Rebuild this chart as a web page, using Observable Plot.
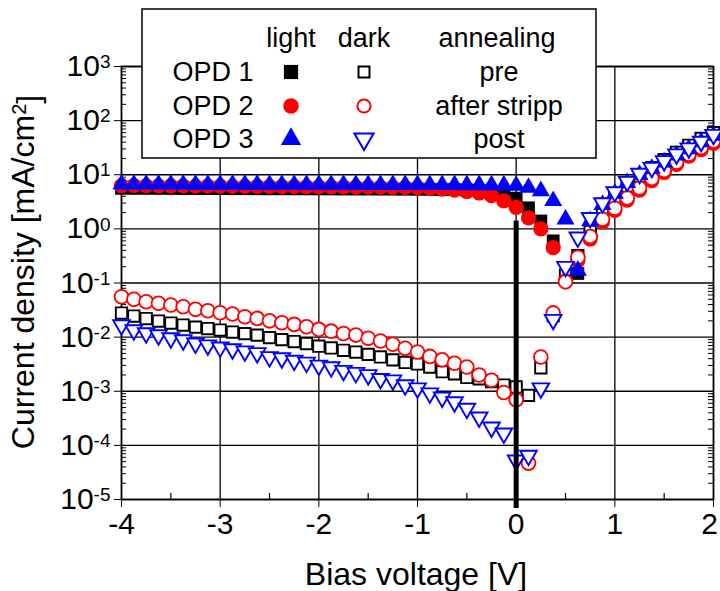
<!DOCTYPE html>
<html><head><meta charset="utf-8">
<script src="https://cdn.jsdelivr.net/npm/d3@7"></script>
<script src="https://cdn.jsdelivr.net/npm/@observablehq/plot@0.6"></script>
<style>
html,body{margin:0;padding:0;background:#fff;}
#chart{position:relative;width:720px;height:591px;}
</style></head><body><div id="chart"></div>
<script>
// ---------- data ----------
const voltage = [-4, -3.875, -3.75, -3.625, -3.5, -3.375, -3.25, -3.125, -3, -2.875, -2.75, -2.625, -2.5, -2.375, -2.25, -2.125, -2, -1.875, -1.75, -1.625, -1.5, -1.375, -1.25, -1.125, -1, -0.875, -0.75, -0.625, -0.5, -0.375, -0.25, -0.125, 0, 0.125, 0.25, 0.375, 0.5, 0.625, 0.75, 0.875, 1, 1.125, 1.25, 1.375, 1.5, 1.625, 1.75, 1.875, 2];

const opd1Light = [5.6, 5.6, 5.6, 5.58, 5.57, 5.56, 5.55, 5.55, 5.54, 5.53, 5.52, 5.51, 5.5, 5.5, 5.49, 5.48, 5.47, 5.46, 5.45, 5.44, 5.43, 5.42, 5.41, 5.4, 5.38,
  5.36, 5.33, 5.3, 5.25, 5.15, 4.9, 4.4, 3.7,
  2.45, 1.4, 0.6, 0.13, 0.15, 0.75, 1.8, 3.5, 5.9, 9, 13, 18.5, 25, 34, 46, 59];
const opd1Dark = [0.0278, 0.0245, 0.0220, 0.0198, 0.0182, 0.0167, 0.0153, 0.0144, 0.0135, 0.0124, 0.0116, 0.0109, 0.0098, 0.0090, 0.0083, 0.0076, 0.0068, 0.0063, 0.0057, 0.0053, 0.0048, 0.0043, 0.0038,
  0.0034, 0.0032, 0.0028, 0.0023, 0.0021, 0.0018, 0.0017, 0.0015, 0.0013, 0.0012,
  0.00084, 0.0027, 0.025, 0.14, 0.32, 0.9, 2.0, 3.8, 6.2, 9.5, 13.5, 19, 26, 35, 47, 60];
const opd2Light = [6.3, 6.28, 6.26, 6.24, 6.22, 6.2, 6.18, 6.16, 6.14, 6.12, 6.1, 6.08, 6.06, 6.04, 6.02, 6.0, 5.98, 5.96, 5.94, 5.92, 5.9, 5.88, 5.86, 5.83, 5.8,
  5.6, 5.4, 5.2, 4.9, 4.6, 4.1, 3.3, 2.5,
  1.6, 1.0, 0.45, 0.11, 0.26, 0.65, 1.35, 2.2, 3.4, 5.2, 7.8, 11, 15.5, 22, 29, 38];
const opd2Dark = [0.0557, 0.0499, 0.0451, 0.0421, 0.0392, 0.0364, 0.0326, 0.0307, 0.0282, 0.0267, 0.0238, 0.0222, 0.0200, 0.0184, 0.0172, 0.0155, 0.0139, 0.0129, 0.0117, 0.0109, 0.0095, 0.0085, 0.0074,
  0.0062, 0.0053, 0.0044, 0.0038, 0.0033, 0.0028, 0.0020, 0.0016, 0.00095, 0.0007,
  0.000047, 0.0043, 0.028, 0.105, 0.3, 0.72, 1.5, 2.4, 3.7, 5.7, 8.5, 12, 17, 24, 32, 42];
const opd3Light = [6.65, 6.65, 6.64, 6.64, 6.63, 6.63, 6.62, 6.62, 6.61, 6.61, 6.6, 6.6, 6.59, 6.59, 6.58, 6.58, 6.57, 6.57, 6.56, 6.56, 6.55, 6.55, 6.54, 6.54, 6.53,
  6.52, 6.51, 6.5, 6.48, 6.46, 6.44, 6.4, 6.3,
  5.8, 5.0, 3.3, 1.5, 0.17, 1.4, 2.8, 4.5, 7.1, 10, 13, 17, 23, 30, 40, 53];
const opd3Dark = [0.0167, 0.0135, 0.0119, 0.0109, 0.0096, 0.0088, 0.0077, 0.0071, 0.0065, 0.0060, 0.0055, 0.0051, 0.0043, 0.0041, 0.0037, 0.0034, 0.0030, 0.0028, 0.0024, 0.0022, 0.0020, 0.0017, 0.0016,
  0.0013, 0.00114, 0.00092, 0.00077, 0.00063, 0.00048, 0.00033, 0.000215, 0.000167, 0.000053,
  0.000065, 0.00114, 0.021, 0.2, 0.7, 1.6, 3.0, 4.8, 7.5, 10.5, 13.5, 18, 24, 31, 41, 55];

const xTicks = [-4, -3, -2, -1, 0, 1, 2];
const xMinorTicks = [-3.5, -2.5, -1.5, -0.5, 0.5, 1.5];
const yTicks = [1e-5, 1e-4, 1e-3, 1e-2, 1e-1, 1e0, 1e1, 1e2, 1e3];
const yMinorTicks = [];
for (let k = -5; k < 3; k++) for (let m = 2; m <= 9; m++) yMinorTicks.push(m * Math.pow(10, k));
const zeroBar = [{v: 0, from: 6.8e-6, to: 1.4}];

const legendDevices = ["OPD 1", "OPD 2", "OPD 3"];
const legendAnnealing = ["pre", "after stripp", "post"];
const legendHeader = ["light", "dark", "annealing"];
const colors = ["#000000", "#ff0000", "#0000ff"];

// ---------- symbols ----------
const triUp = {draw(ctx, size) { const y = Math.sqrt(size / (Math.sqrt(3) * 3)); ctx.moveTo(0, -2 * y); ctx.lineTo(Math.sqrt(3) * y, y); ctx.lineTo(-Math.sqrt(3) * y, y); ctx.closePath(); }};
const triDown = {draw(ctx, size) { const y = Math.sqrt(size / (Math.sqrt(3) * 3)); ctx.moveTo(0, 2 * y); ctx.lineTo(-Math.sqrt(3) * y, -y); ctx.lineTo(Math.sqrt(3) * y, -y); ctx.closePath(); }};

const pts = arr => voltage.map((v, i) => ({v, j: arr[i]}));

const FONT = "Liberation Sans, Arial, Helvetica, sans-serif";

const svgEl = Plot.plot({
  width: 720, height: 591,
  marginLeft: 121, marginRight: 7, marginTop: 66, marginBottom: 92,
  style: {fontFamily: FONT, color: "black", background: "white", overflow: "visible"},
  x: {domain: [-4, 2]},
  y: {type: "log", domain: [1e-5, 1e3]},
  marks: [
    Plot.gridY(yTicks, {stroke: "black", strokeOpacity: 1, strokeWidth: 1.3}),
    Plot.gridX(xTicks, {stroke: "black", strokeOpacity: 1, strokeWidth: 1.3}),
    Plot.ruleY(yMinorTicks, {insetRight: 587, stroke: "black", strokeWidth: 1}),
    Plot.ruleY(yMinorTicks, {insetLeft: 587, stroke: "black", strokeWidth: 1}),
    Plot.ruleX(xMinorTicks, {insetTop: 427, stroke: "black", strokeWidth: 1.2}),
    Plot.frame({stroke: "black", strokeWidth: 1.6}),
    Plot.axisY(yTicks, {anchor: "left", tickSize: 7, tickPadding: 4, fontSize: 30, label: null, tickFormat: d => String(Math.round(Math.log10(d)))}),
    Plot.axisX(xTicks, {anchor: "bottom", tickSize: 8, tickPadding: 5, fontSize: 30, label: null, tickFormat: d => String(d)}),
    Plot.dot(pts(opd1Light), {x: "v", y: "j", symbol: "square", r: 7.2, fill: colors[0], stroke: "none"}),
    Plot.dot(pts(opd1Dark), {x: "v", y: "j", symbol: "square", r: 6.4, fill: "white", stroke: colors[0], strokeWidth: 1.9}),
    Plot.dot(pts(opd2Light), {x: "v", y: "j", symbol: "circle", r: 7.6, fill: colors[1], stroke: "none"}),
    Plot.dot(pts(opd2Dark), {x: "v", y: "j", symbol: "circle", r: 6.9, fill: "white", stroke: colors[1], strokeWidth: 1.8}),
    Plot.dot(pts(opd3Light), {x: "v", y: "j", symbol: triUp, r: 6.7, fill: colors[2], stroke: "none"}),
    Plot.dot(pts(opd3Dark), {x: "v", y: "j", symbol: triDown, r: 6.2, fill: "white", stroke: colors[2], strokeWidth: 1.9}),
    Plot.ruleX(zeroBar, {x: "v", y1: "from", y2: "to", stroke: "black", strokeWidth: 5})
  ]
});
document.getElementById("chart").appendChild(svgEl);

// superscript exponents on y tick labels
const NS = "http://www.w3.org/2000/svg";
svgEl.querySelectorAll('g[aria-label="y-axis tick label"] text').forEach(t => {
  const e = t.textContent;
  t.textContent = "";
  const a = document.createElementNS(NS, "tspan"); a.textContent = "10"; t.appendChild(a);
  const b = document.createElementNS(NS, "tspan"); b.textContent = e;
  b.setAttribute("dy", "-0.42em"); b.setAttribute("font-size", "19px"); t.appendChild(b);
});
// keep the last x tick label inside the picture
const xl = svgEl.querySelectorAll('g[aria-label="x-axis tick label"] text');
if (xl.length) xl[xl.length - 1].setAttribute("dx", "-4");

const svg = d3.select(svgEl);
// axis titles
const yl = svg.append("text").attr("transform", "translate(34,272) rotate(-90)")
  .attr("text-anchor", "middle").attr("font-size", 32).attr("font-family", FONT).attr("fill", "black");
yl.append("tspan").text("Current density [mA/cm");
yl.append("tspan").attr("dy", "-0.42em").attr("font-size", 20).text("2");
yl.append("tspan").attr("dy", "0.42em").text("]");
svg.append("text").attr("x", 416).attr("y", 585).attr("text-anchor", "middle")
  .attr("font-size", 32).attr("font-family", FONT).attr("fill", "black").text("Bias voltage [V]");

// legend
const lg = svg.append("g").attr("font-family", FONT).attr("font-size", 27).attr("fill", "black");
lg.append("rect").attr("x", 142).attr("y", 9).attr("width", 454).attr("height", 149)
  .attr("fill", "white").attr("stroke", "black").attr("stroke-width", 1.5);
const colX = [291, 364, 497];
legendHeader.forEach((h, i) => lg.append("text").attr("x", colX[i]).attr("y", 47).attr("text-anchor", "middle").text(h));
const rowY = [72, 106, 139];
const lightSym = [[d3.symbolSquare, 200], [d3.symbolCircle, 190], [triUp, 180]];
const darkSym = [[d3.symbolSquare, 120], [d3.symbolCircle, 135], [triDown, 160]];
legendDevices.forEach((name, i) => {
  lg.append("text").attr("x", 213).attr("y", rowY[i] + 9).attr("text-anchor", "middle").text(name);
  lg.append("text").attr("x", 499).attr("y", rowY[i] + 9).attr("text-anchor", "middle").text(legendAnnealing[i]);
  lg.append("path").attr("transform", `translate(${colX[0]},${rowY[i]})`)
    .attr("d", d3.symbol(lightSym[i][0], lightSym[i][1])()).attr("fill", colors[i]);
  lg.append("path").attr("transform", `translate(${colX[1]},${rowY[i]})`)
    .attr("d", d3.symbol(darkSym[i][0], darkSym[i][1])()).attr("fill", "white")
    .attr("stroke", colors[i]).attr("stroke-width", 2);
});
</script></body></html>
